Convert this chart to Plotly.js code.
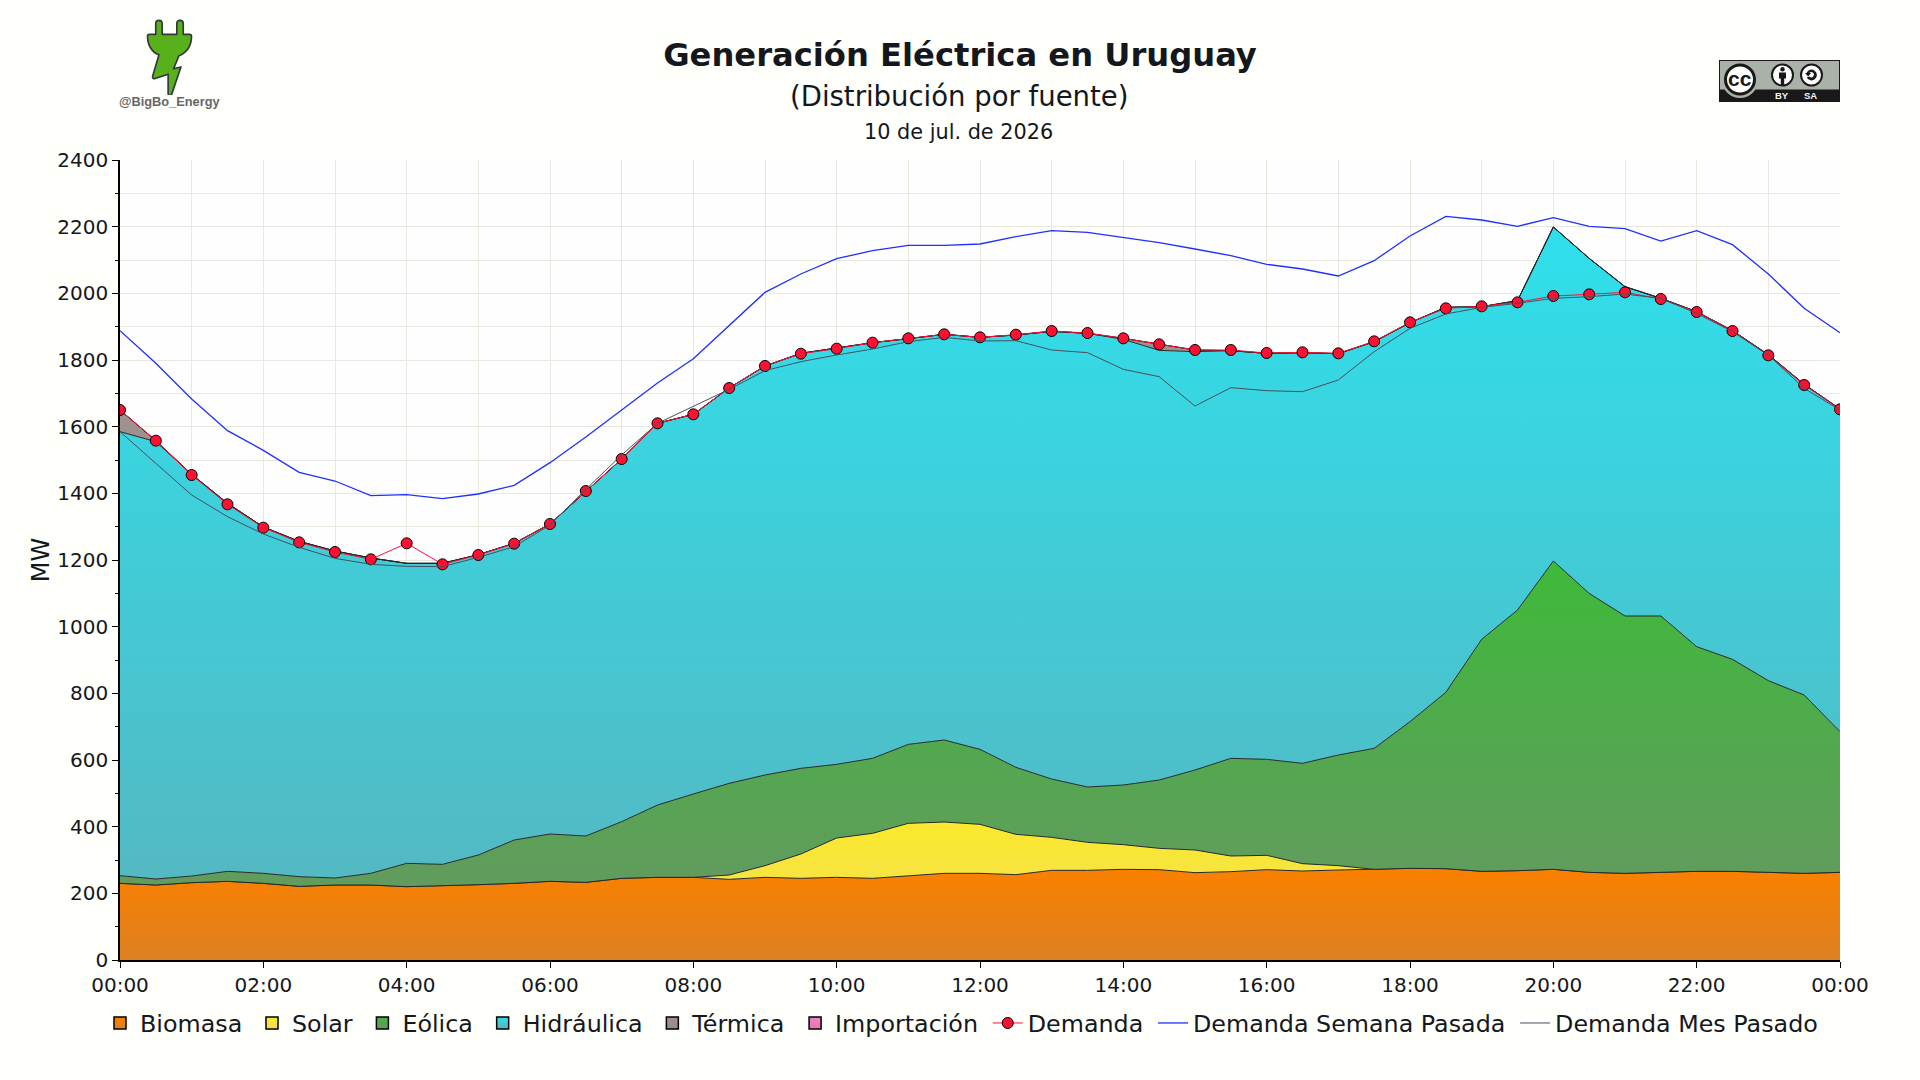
<!DOCTYPE html>
<html>
<head>
<meta charset="utf-8">
<script src="https://cdn.plot.ly/plotly-3.0.1.min.js"></script>
<style>
    html, body { margin: 0; padding: 0; background: #fffffb; }
    #chart { width: 1920px; height: 1080px; }
</style>
</head>
<body>
<div id="chart"></div>
<script>
    // half hourly values, MW
    const times = [
        '2026-07-10 00:00', '2026-07-10 00:30', '2026-07-10 01:00', '2026-07-10 01:30', '2026-07-10 02:00',
        '2026-07-10 02:30', '2026-07-10 03:00', '2026-07-10 03:30', '2026-07-10 04:00', '2026-07-10 04:30',
        '2026-07-10 05:00', '2026-07-10 05:30', '2026-07-10 06:00', '2026-07-10 06:30', '2026-07-10 07:00',
        '2026-07-10 07:30', '2026-07-10 08:00', '2026-07-10 08:30', '2026-07-10 09:00', '2026-07-10 09:30',
        '2026-07-10 10:00', '2026-07-10 10:30', '2026-07-10 11:00', '2026-07-10 11:30', '2026-07-10 12:00',
        '2026-07-10 12:30', '2026-07-10 13:00', '2026-07-10 13:30', '2026-07-10 14:00', '2026-07-10 14:30',
        '2026-07-10 15:00', '2026-07-10 15:30', '2026-07-10 16:00', '2026-07-10 16:30', '2026-07-10 17:00',
        '2026-07-10 17:30', '2026-07-10 18:00', '2026-07-10 18:30', '2026-07-10 19:00', '2026-07-10 19:30',
        '2026-07-10 20:00', '2026-07-10 20:30', '2026-07-10 21:00', '2026-07-10 21:30', '2026-07-10 22:00',
        '2026-07-10 22:30', '2026-07-10 23:00', '2026-07-10 23:30', '2026-07-11 00:00'
    ];
    const biomasa = [230, 225, 232, 236, 230, 221, 225, 225, 220, 222, 226, 230, 236, 233, 245, 248, 248, 242, 248, 245,
        248, 245, 253, 260, 260, 256, 269, 269, 272, 271, 262, 265, 271, 267, 270, 272, 275, 274, 266, 268,
        272, 263, 260, 263, 266, 266, 263, 260, 263];
    const solar = [0, 0, 0, 0, 0, 0, 0, 0, 0, 0, 0, 0, 0, 0, 0, 0, 0, 13, 35, 73,
        118, 135, 157, 154, 147, 121, 99, 84, 74, 64, 68, 47, 43, 22, 13, 0, 0, 0, 0, 0,
        0, 0, 0, 0, 0, 0, 0, 0, 0];
    const eolica = [23, 18, 20, 30, 30, 29, 21, 35, 70, 65, 89, 130, 142, 139, 170, 217, 250, 275, 272, 257,
        221, 225, 237, 246, 225, 201, 175, 166, 179, 205, 240, 293, 288, 301, 332, 363, 440, 529, 696, 782,
        925, 837, 772, 769, 674, 636, 575, 535, 422];
    const hidraulica = [1332, 1312, 1205, 1104, 1039, 1006, 981, 946, 900, 903, 901, 890, 930, 1035, 1088, 1145, 1139, 1186, 1227, 1245,
        1248, 1247, 1217, 1217, 1236, 1297, 1343, 1361, 1337, 1289, 1255, 1223, 1218, 1232, 1204, 1220, 1197, 1155, 998, 928,
        1002, 1005, 988, 953, 1005, 986, 978, 932, 968];
    const termica = [65, 3, 0, 0, 0, 0, 0, 0, 0, 0, 0, 0, 0, 0, 0, 0, 0, 0, 0, 0,
        0, 0, 0, 0, 0, 0, 0, 0, 3, 18, 5, 0, 0, 0, 0, 0, 0, 0, 0, 0,
        0, 0, 0, 0, 0, 0, 0, 0, 0];
    const importacion = [0, 0, 0, 0, 0, 0, 0, 0, 0, 0, 0, 0, 0, 0, 0, 0, 0, 0, 0, 0,
        0, 0, 0, 0, 0, 0, 0, 0, 0, 0, 0, 0, 0, 0, 0, 0, 0, 0, 0, 0,
        0, 0, 0, 0, 0, 0, 0, 0, 0];
    const demanda = [1650, 1558, 1455, 1367, 1297, 1253, 1224, 1202, 1250, 1187, 1215, 1249, 1308, 1407, 1503, 1610, 1637, 1716, 1782, 1819,
        1834, 1852, 1865, 1877, 1868, 1876, 1887, 1881, 1865, 1847, 1830, 1830, 1821, 1823, 1820, 1856, 1913, 1955, 1961, 1973,
        1992, 1997, 2003, 1983, 1944, 1887, 1814, 1725, 1652];
    const semanaPasada = [1888, 1790, 1683, 1588, 1529, 1463, 1437, 1393, 1396, 1384, 1398, 1424, 1492, 1569, 1650, 1731, 1804, 1904, 2003, 2058,
        2104, 2128, 2144, 2144, 2148, 2170, 2188, 2183, 2168, 2152, 2133, 2113, 2087, 2073, 2052, 2098, 2172, 2231, 2220, 2201,
        2227, 2201, 2194, 2157, 2188, 2146, 2058, 1955, 1882];
    const mesPasado = [1585, 1490, 1395, 1330, 1278, 1238, 1205, 1187, 1181, 1180, 1208, 1240, 1305, 1412, 1515, 1610, 1660, 1712, 1768, 1795,
        1815, 1833, 1855, 1868, 1857, 1858, 1830, 1822, 1772, 1750, 1662, 1717, 1708, 1705, 1740, 1825, 1895, 1938, 1958, 1970,
        1985, 1990, 1998, 1985, 1940, 1885, 1815, 1715, 1650];

    const xTickFormat = '%H:%M';
    const FONT = '"DejaVu Sans", sans-serif';

    const COLORS = {
        paper: '#fffffb',
        plot: '#fffeff',
        grid: '#e9e8df',
        text: '#14171c',
        edge: '#26282c',
        demanda: '#ff1032',
        semana: '#1f2fff',
        mes: '#46505e'
    };

    // name, values, bottom colour, top colour, highest stacked value used by the gradient
    const sources = [
        ['Biomasa', biomasa, '#dc8022', '#fa8000', 275],
        ['Solar', solar, '#f0de60', '#fbe82c', 414],
        ['Eólica', eolica, '#6a9466', '#3eba3a', 1197],
        ['Hidráulica', hidraulica, '#58b4be', '#2ee0ec', 2199],
        ['Térmica', termica, '#988c8c', '#a09090', 1650],
        ['Importación', importacion, '#e878b4', '#f080c0', 1650]
    ];

    // the reference keeps a little more room between legend entries
    const legendName = name => name + '\u2009';

    const areaTraces = sources.map(([name, values, bottom, top, stop]) => ({
        x: times,
        y: values,
        name: name,
        type: 'scatter',
        mode: 'lines',
        stackgroup: 'fuentes',
        showlegend: false,
        hoverinfo: 'x+y+name',
        line: { color: COLORS.edge, width: 1 },
        fillcolor: top,
        fillgradient: {
            type: 'vertical',
            start: stop,
            stop: 0,
            colorscale: [[0, top], [1, bottom]]
        }
    }));

    // square legend keys, the areas themselves have no legend entry
    const keyTraces = sources.map(([name, , bottom, top]) => ({
        x: [null],
        y: [null],
        name: legendName(name),
        type: 'scatter',
        mode: 'markers',
        hoverinfo: 'skip',
        marker: {
            symbol: 'square',
            size: 12,
            color: top,
            gradient: { type: 'vertical', color: bottom },
            line: { color: '#000', width: 1.5 }
        }
    }));

    const lineTraces = [
        {
            x: times, y: semanaPasada, name: legendName('Demanda Semana Pasada'),
            type: 'scatter', mode: 'lines',
            line: { color: COLORS.semana, width: 1.3 }
        },
        {
            x: times, y: mesPasado, name: 'Demanda Mes Pasado',
            type: 'scatter', mode: 'lines',
            line: { color: COLORS.mes, width: 1 }
        },
        {
            x: times, y: demanda, name: legendName('Demanda'),
            type: 'scatter', mode: 'lines+markers',
            line: { color: COLORS.demanda, width: 1 },
            marker: { color: COLORS.demanda, size: 11, line: { color: '#000', width: 1 } }
        }
    ];

    // legend order of the reference: demand first, then the two past weeks
    const traces = [...areaTraces, ...keyTraces, lineTraces[2], lineTraces[0], lineTraces[1]];

    // page pixels to paper coordinates
    const plotBox = { left: 120, top: 160, width: 1720, height: 800 };
    const paperX = px => (px - plotBox.left) / plotBox.width;
    const paperY = py => 1 - (py - plotBox.top) / plotBox.height;

    const plugSvg = `<svg xmlns="http://www.w3.org/2000/svg" viewBox="0 0 60 84">
        <path d="M15 17V5q0-3.5 3.5-3.5T22 5v12h16V5q0-3.5 3.5-3.5T45 5v12h7q2 0 2 2c0 10-5 18-14 22l-1.500 4-4 10 8-2-10 30q-1 2-3 1.500l-1-1.500v-22l-15 5q-2 0-2-2.500l7-24C11 37 6 29 6 19q0-2 2-2z"
            fill="#58b01a" stroke="#33363a" stroke-width="1.800" stroke-linejoin="round"/></svg>`;

    const badgeSvg = `<svg xmlns="http://www.w3.org/2000/svg" viewBox="0 0 121 42">
        <rect width="121" height="42" fill="#191919"/>
        <rect x="1" y="1" width="119" height="28.500" fill="#aab1a9"/>
        <circle cx="21" cy="20" r="18" fill="#aab1a9"/>
        <circle cx="21" cy="19.500" r="14.500" fill="#fff" stroke="#191919" stroke-width="3"/>
        <circle cx="63.500" cy="15" r="10.500" fill="#fff" stroke="#191919" stroke-width="2"/>
        <circle cx="63.500" cy="9.200" r="2.200" fill="#191919"/>
        <path d="M60 12.500h7v6h-1.800v6.500h-3.400v-6.500H60z" fill="#191919"/>
        <circle cx="92.500" cy="15" r="10.500" fill="#fff" stroke="#191919" stroke-width="2"/>
        <path d="M87.500 13a5.400 5.400 0 1 1 .2 4.500l2.700-1a2.600 2.600 0 1 0-.1-3.500h1.900l-3.100 3.500-3.100-3.500z" fill="#191919"/>
    </svg>`;
    const svgUri = s => 'data:image/svg+xml;base64,' + btoa(s);

    const layout = {
        width: 1920,
        height: 1080,
        paper_bgcolor: COLORS.paper,
        plot_bgcolor: COLORS.plot,
        font: { family: FONT, color: COLORS.text, size: 20 },
        margin: { l: plotBox.left, r: 80, t: plotBox.top, b: 120 },
        title: {
            text: '<b>Generación Eléctrica en Uruguay</b>',
            font: { family: FONT, size: 32.200, color: COLORS.text },
            x: 0.5, xanchor: 'center', xref: 'container',
            y: 1 - 55 / 1080, yanchor: 'middle', yref: 'container'
        },
        xaxis: {
            type: 'date',
            range: ['2026-07-10 00:00', '2026-07-11 00:00'],
            dtick: 7200000,
            tick0: '2026-07-10 00:00',
            tickformat: xTickFormat,
            ticks: 'outside',
            ticklen: 6,
            tickcolor: '#000',
            tickfont: { size: 20 },
            showline: true,
            linecolor: '#000',
            linewidth: 1.5,
            showgrid: true,
            gridcolor: COLORS.grid,
            minor: { dtick: 3600000, showgrid: true, gridcolor: COLORS.grid, ticks: '' }
        },
        yaxis: {
            range: [0, 2400],
            dtick: 200,
            ticks: 'outside',
            ticklen: 6,
            tickcolor: '#000',
            tickfont: { size: 20 },
            showline: true,
            linecolor: '#000',
            linewidth: 1.5,
            showgrid: true,
            gridcolor: COLORS.grid,
            zeroline: false,
            title: { text: 'MW', font: { size: 24 }, standoff: 1 },
            minor: { dtick: 100, showgrid: true, gridcolor: COLORS.grid, ticks: 'outside', ticklen: 3, tickcolor: '#000' }
        },
        showlegend: true,
        legend: {
            orientation: 'h',
            // below the plot and anchored in the left margin, so the single row may be wider than the plot
            x: paperX(100), xanchor: 'left',
            y: paperY(1023), yanchor: 'middle',
            font: { size: 23.800 },
            bgcolor: 'rgba(0,0,0,0)',
            itemwidth: 30,
            traceorder: 'normal'
        },
        images: [
            {
                source: svgUri(plugSvg), xref: 'paper', yref: 'paper',
                x: paperX(142), y: paperY(19), sizex: 55 / plotBox.width, sizey: 76 / plotBox.height,
                xanchor: 'left', yanchor: 'top', sizing: 'stretch', layer: 'above'
            },
            {
                source: svgUri(badgeSvg), xref: 'paper', yref: 'paper',
                x: paperX(1719), y: paperY(60), sizex: 121 / plotBox.width, sizey: 42 / plotBox.height,
                xanchor: 'left', yanchor: 'top', sizing: 'stretch', layer: 'above'
            }
        ],
        annotations: [
            { text: '(Distribución por fuente)', x: paperX(959), y: paperY(96), font: { size: 27.500 } },
            { text: '10 de jul. de 2026', x: paperX(958), y: paperY(132), font: { size: 20.800 } },
            { text: '<b>@BigBo_Energy</b>', x: paperX(170), y: paperY(101), font: { family: '"Liberation Sans", sans-serif', size: 12.800, color: '#666666' } },
            { text: '<b>cc</b>', x: paperX(1740), y: paperY(79), font: { family: '"Liberation Sans", sans-serif', size: 21, color: '#191919' } },
            { text: '<b>BY</b>', x: paperX(1782), y: paperY(96), font: { family: '"Liberation Sans", sans-serif', size: 9.500, color: '#f4f4f4' } },
            { text: '<b>SA</b>', x: paperX(1810), y: paperY(96), font: { family: '"Liberation Sans", sans-serif', size: 9.500, color: '#f4f4f4' } }
        ].map(a => ({ xref: 'paper', yref: 'paper', showarrow: false, xanchor: 'center', yanchor: 'middle', ...a }))
    };

    Plotly.newPlot('chart', traces, layout, { displayModeBar: false });
</script>
</body>
</html>
